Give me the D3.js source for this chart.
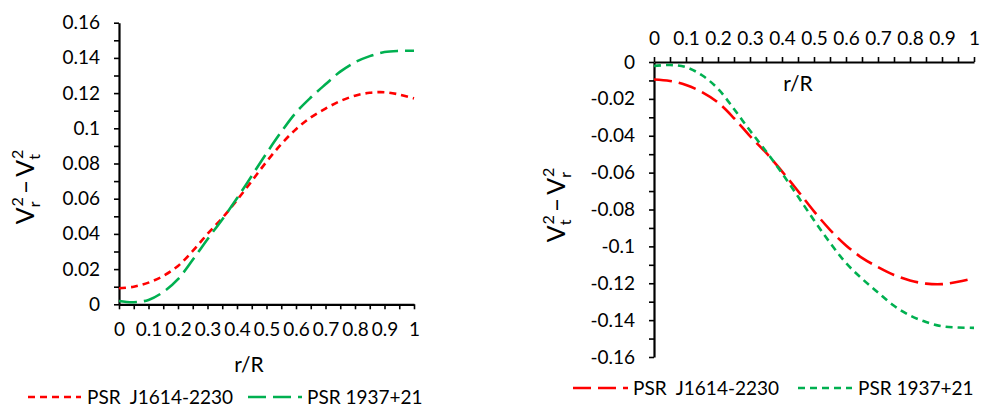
<!DOCTYPE html>
<html>
<head>
<meta charset="utf-8">
<script src="https://cdn.jsdelivr.net/npm/d3@7"></script>
<style>
  html, body { margin: 0; padding: 0; background: #fff; }
  svg { display: block; }
  text { font-family: Lato, "Open Sans", sans-serif; fill: #000; }
</style>
</head>
<body>
<svg id="chart" width="989" height="408"></svg>
<script>
// ---------- data ----------
const rValues = [0, 0.05, 0.1, 0.15, 0.2, 0.25, 0.3, 0.35, 0.4, 0.45, 0.5, 0.55, 0.6, 0.65, 0.7, 0.75, 0.8, 0.85, 0.9, 0.95, 1];

// Left panel: Vr^2 - Vt^2
const leftJ1614 = [0.0091, 0.0100, 0.0123, 0.0161, 0.0218, 0.0303, 0.0400, 0.0490, 0.0592, 0.0700, 0.0810, 0.0910, 0.0995, 0.1062, 0.1112, 0.1155, 0.1185, 0.1202, 0.1205, 0.1192, 0.1170];
const left1937  = [0.0019, 0.0012, 0.0025, 0.0070, 0.0143, 0.0253, 0.0370, 0.0482, 0.0602, 0.0730, 0.0858, 0.0980, 0.1090, 0.1175, 0.1250, 0.1322, 0.1375, 0.1410, 0.1433, 0.1440, 0.1441];

// Right panel: Vt^2 - Vr^2
const rightJ1614 = [-0.0095, -0.0103, -0.0125, -0.0163, -0.0220, -0.0305, -0.0402, -0.0492, -0.0593, -0.0700, -0.0810, -0.0910, -0.0995, -0.1062, -0.1112, -0.1155, -0.1185, -0.1202, -0.1205, -0.1192, -0.1172];
const right1937  = [-0.0022, -0.0016, -0.0028, -0.0072, -0.0145, -0.0255, -0.0372, -0.0484, -0.0603, -0.0730, -0.0858, -0.0980, -0.1090, -0.1175, -0.1250, -0.1322, -0.1375, -0.1410, -0.1433, -0.1440, -0.1442];

const seriesNames = ["PSR  J1614-2230", "PSR 1937+21"];

const xTickValues = [0, 0.05, 0.1, 0.15, 0.2, 0.25, 0.3, 0.35, 0.4, 0.45, 0.5, 0.55, 0.6, 0.65, 0.7, 0.75, 0.8, 0.85, 0.9, 0.95, 1];
const xTickLabels = ["0", "", "0.1", "", "0.2", "", "0.3", "", "0.4", "", "0.5", "", "0.6", "", "0.7", "", "0.8", "", "0.9", "", "1"];

const leftYTickValues = [0, 0.01, 0.02, 0.03, 0.04, 0.05, 0.06, 0.07, 0.08, 0.09, 0.1, 0.11, 0.12, 0.13, 0.14, 0.15, 0.16];
const leftYTickLabels = ["0", "", "0.02", "", "0.04", "", "0.06", "", "0.08", "", "0.1", "", "0.12", "", "0.14", "", "0.16"];

const rightYTickValues = [0, -0.01, -0.02, -0.03, -0.04, -0.05, -0.06, -0.07, -0.08, -0.09, -0.1, -0.11, -0.12, -0.13, -0.14, -0.15, -0.16];
const rightYTickLabels = ["0", "", "-0.02", "", "-0.04", "", "-0.06", "", "-0.08", "", "-0.1", "", "-0.12", "", "-0.14", "", "-0.16"];

// ---------- styles ----------
const RED = "#FF0000", GREEN = "#00B050";
const SHORT_DASH = "7,5";
const LONG_DASH = "18,7";
const FS = 19;

const svg = d3.select("#chart");

function drawPanel(opts) {
  const x = d3.scaleLinear().domain([0, 1]).range(opts.xRange);
  const y = d3.scaleLinear().domain(opts.yDomain).range(opts.yRange);
  const g = svg.append("g");

  const xAxis = (opts.xTop ? d3.axisTop(x) : d3.axisBottom(x))
    .tickValues(xTickValues)
    .tickFormat((d, i) => xTickLabels[i])
    .tickSize(5).tickSizeOuter(0).tickPadding(opts.xPad);
  const gx = g.append("g").attr("transform", `translate(0,${y(0)})`).call(xAxis);

  const yAxis = d3.axisLeft(y)
    .tickValues(opts.yTicks)
    .tickFormat((d, i) => opts.yLabels[i])
    .tickSize(5).tickSizeOuter(0).tickPadding(14);
  const gy = g.append("g").attr("transform", `translate(${x(0)},0)`).call(yAxis);

  [gx, gy].forEach(a => {
    a.select(".domain").attr("stroke", "#000").attr("stroke-width", 2.2);
    a.selectAll(".tick line").attr("stroke", "#000").attr("stroke-width", 1.6);
    a.selectAll(".tick text").attr("font-size", FS).attr("font-family", "Lato, sans-serif").attr("fill", "#000");
  });

  const line = d3.line().x((d, i) => x(rValues[i])).y(d => y(d)).curve(d3.curveCatmullRom.alpha(0.5));
  opts.series.forEach(s => {
    g.append("path").datum(s.values)
      .attr("d", line)
      .attr("fill", "none")
      .attr("stroke", s.color)
      .attr("stroke-width", 2.6)
      .attr("stroke-dasharray", s.dash);
  });

  g.append("text").attr("x", opts.xTitle[0]).attr("y", opts.xTitle[1])
    .attr("text-anchor", "middle").attr("font-size", 21).text("r/R");

  const t = g.append("text")
    .attr("transform", `translate(${opts.yTitle[0]},${opts.yTitle[1]}) rotate(-90)`)
    .attr("text-anchor", "middle").attr("font-size", 25);
  const a = opts.yTitleSubs;
  t.append("tspan").text("V");
  t.append("tspan").attr("font-size", 16).attr("dy", 6).text(a[0]);
  t.append("tspan").attr("font-size", 16).attr("dx", -5).attr("dy", -17).text("2");
  t.append("tspan").attr("dx", 3).attr("dy", 11).text("\u2013");
  t.append("tspan").attr("dx", 3).text("V");
  t.append("tspan").attr("font-size", 16).attr("dy", 6).text(a[1]);
  t.append("tspan").attr("font-size", 16).attr("dx", -5).attr("dy", -17).text("2");

  opts.legend.forEach(l => {
    g.append("line").attr("x1", l.x1).attr("x2", l.x2).attr("y1", l.y).attr("y2", l.y)
      .attr("stroke", l.color).attr("stroke-width", 2.6).attr("stroke-dasharray", l.dash);
    g.append("text").attr("x", l.tx).attr("y", l.y + 7)
      .attr("font-size", FS).style("white-space", "pre").text(l.name);
  });
}

drawPanel({
  xRange: [119, 414], yDomain: [0, 0.16], yRange: [304.3, 22.7],
  xTop: false, xPad: 13,
  yTicks: leftYTickValues, yLabels: leftYTickLabels,
  series: [
    { values: leftJ1614, color: RED, dash: SHORT_DASH },
    { values: left1937, color: GREEN, dash: LONG_DASH }
  ],
  xTitle: [249, 372], yTitle: [34, 187], yTitleSubs: ["r", "t"],
  legend: [
    { x1: 28, x2: 81, y: 397, color: RED, dash: SHORT_DASH, tx: 87, name: seriesNames[0] },
    { x1: 248, x2: 302, y: 397, color: GREEN, dash: LONG_DASH, tx: 307, name: seriesNames[1] }
  ]
});

drawPanel({
  xRange: [654, 974], yDomain: [0, -0.16], yRange: [62, 357],
  xTop: true, xPad: 12,
  yTicks: rightYTickValues, yLabels: rightYTickLabels,
  series: [
    { values: rightJ1614, color: RED, dash: LONG_DASH },
    { values: right1937, color: GREEN, dash: SHORT_DASH }
  ],
  xTitle: [798, 91], yTitle: [565, 205], yTitleSubs: ["t", "r"],
  legend: [
    { x1: 573, x2: 628, y: 388, color: RED, dash: LONG_DASH, tx: 633, name: seriesNames[0] },
    { x1: 798, x2: 852, y: 388, color: GREEN, dash: SHORT_DASH, tx: 858, name: seriesNames[1] }
  ]
});
</script>
</body>
</html>
